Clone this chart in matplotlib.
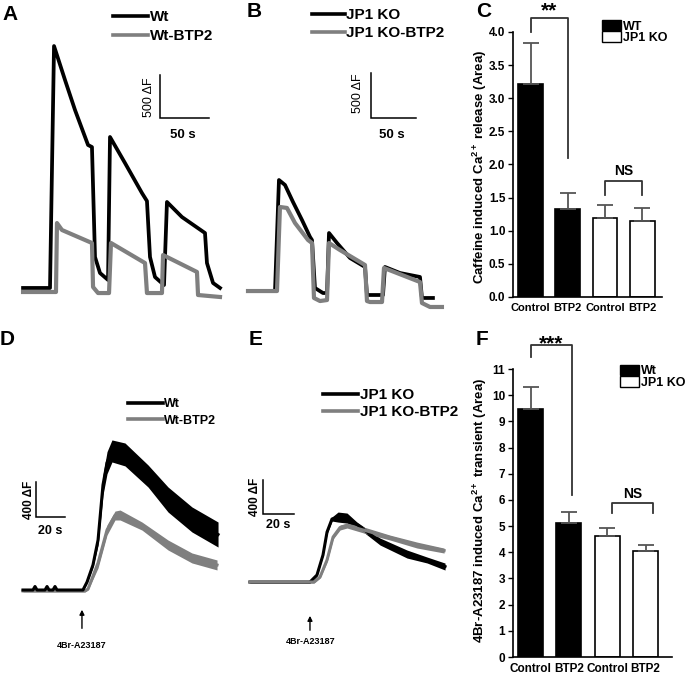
import numpy as np
import matplotlib
matplotlib.use('Agg')
import matplotlib.pyplot as plt
from matplotlib.patches import Patch

plt.rcParams['font.family'] = ['Liberation Sans', 'DejaVu Sans']
plt.rcParams['font.weight'] = 'bold'
plt.rcParams['mathtext.fontset'] = 'custom'
plt.rcParams['mathtext.rm'] = 'Liberation Sans:bold'
plt.rcParams['mathtext.bf'] = 'Liberation Sans:bold'
plt.rcParams['mathtext.it'] = 'Liberation Sans:bold:italic'

W, H = 685, 675
GRAY = '#7f7f7f'

# ---- A: caffeine-induced Ca release, Wt (time s, dF) ----
a_wt_t = [3.1, 30.6, 34.7, 45.9, 56.1, 69.4, 73.4, 76.5, 81.6, 89.8, 91.8, 107.1, 124.4, 129.5,
          132.6, 137.7, 146.9, 149.9, 165.2, 188.7, 190.7, 196.9, 204.0]
a_wt_f = [47, 47, 2861, 2466, 2117, 1710, 1686, 407, 221, 140, 1803, 1500, 1151, 1058,
          407, 174, 81, 1047, 872, 686, 337, 105, 47]
a_btp_t = [3.1, 36.7, 37.7, 42.8, 73.4, 74.5, 79.6, 90.8, 92.8, 127.5, 129.5, 144.8, 145.9,
           180.5, 181.6, 204.0]
a_btp_f = [0, 0, 802, 721, 570, 58, -12, -12, 570, 337, -12, -12, 430, 233, -35, -58]

# ---- B: JP1 KO ----
b_ko_t = [8.9, 38.9, 43.3, 50.0, 58.9, 68.9, 77.8, 80.0, 83.3, 92.2, 96.7, 98.9, 107.8, 122.2,
          138.9, 141.1, 158.9, 161.1, 177.8, 200.0, 202.2, 214.4]
b_ko_f = [33, 33, 1265, 1210, 1021, 821, 633, 599, 67, 11, 11, 677, 566, 400,
          300, -11, -11, 300, 233, 189, -44, -44]
b_btp_t = [8.9, 41.1, 44.4, 52.2, 61.1, 75.6, 80.0, 82.2, 88.9, 96.7, 98.9, 111.1, 138.9, 141.1,
           144.4, 157.8, 160.0, 200.0, 202.2, 211.1, 224.4]
b_btp_f = [33, 33, 966, 955, 788, 599, 566, -44, -78, -67, 566, 488, 322, -78,
           -89, -89, 289, 133, -100, -144, -144]

# ---- D: 4Br-A23187 transients, Wt (mean, sem) ----
d_wt_t = [5.5, 12.4, 13.8, 15.2, 20.7, 22.1, 23.5, 26.2, 27.6, 29.0, 46.9, 49.7, 53.8, 57.3,
          60.7, 63.5, 66.9, 75.9, 91.8, 105.6, 122.1, 140.1]
d_wt_m = [0, 0, 40, 0, 0, 40, 0, 0, 40, 0, 0, 91, 286, 571,
          1200, 1455, 1589, 1549, 1303, 1034, 806, 634]
d_wt_s = [12, 12, 12, 12, 12, 12, 12, 12, 12, 12, 12, 12, 23, 57,
          114, 126, 126, 131, 126, 143, 143, 143]
d_btp_t = [5.5, 48.3, 50.4, 57.3, 63.5, 69.0, 72.5, 87.6, 105.6, 122.1, 139.4]
d_btp_m = [-11, -11, 11, 309, 686, 851, 857, 731, 514, 366, 286]
d_btp_s = [11, 11, 11, 57, 57, 51, 57, 46, 57, 57, 57]

# ---- E: JP1 KO ----
e_ko_t = [3.2, 41.9, 46.4, 50.3, 52.9, 56.1, 60.0, 65.8, 72.2, 87.1, 104.5, 117.4, 129.0]
e_ko_m = [0, 0, 82, 318, 588, 741, 764, 752, 676, 476, 329, 259, 182]
e_ko_s = [12, 12, 12, 12, 24, 24, 59, 59, 29, 41, 47, 35, 41]
e_btp_t = [3.2, 44.5, 48.4, 52.9, 56.8, 61.3, 65.8, 78.7, 93.5, 110.9, 128.4]
e_btp_m = [0, 0, 59, 259, 529, 641, 664, 600, 523, 435, 370]
e_btp_s = [12, 12, 12, 24, 24, 29, 29, 35, 29, 35, 29]

# ---- C and F: bar summaries ----
groups = ['Control', 'BTP2', 'Control', 'BTP2']
c_mean = [3.21, 1.33, 1.19, 1.14]
c_err = [0.62, 0.24, 0.20, 0.21]
f_mean = [9.47, 5.10, 4.62, 4.05]
f_err = [0.85, 0.43, 0.32, 0.24]

fig = plt.figure(figsize=(W / 100, H / 100), dpi=100)


def px_axes(x0, y0, x1, y1):
    return fig.add_axes([x0 / W, 1 - y1 / H, (x1 - x0) / W, (y1 - y0) / H])


def fig_xy(x, y):
    return (x / W, 1 - y / H)


def trace_legend(ax, x, y, fs, hlen, lsp, handles=None, labels=None):
    if handles is None:
        handles, labels = ax.get_legend_handles_labels()
    leg = ax.legend(handles, labels, loc='upper left', bbox_to_anchor=fig_xy(x, y),
                    bbox_transform=fig.transFigure, frameon=False, borderpad=0,
                    borderaxespad=0, handlelength=hlen, handletextpad=0.1,
                    labelspacing=lsp, prop=dict(size=fs, weight='bold'))
    for hl in leg.get_lines():
        hl.set_linewidth(2.6)


def scalebar(ax, t0, f0, dt, df, tlab, flab, tpos, fpos, fweight, tfs, ffs):
    ax.plot([t0, t0, t0 + dt], [f0 + df, f0, f0], color='black', lw=1.1,
            solid_joinstyle='miter', clip_on=False)
    ax.text(tpos[0], tpos[1], tlab, ha='center', va='center', fontsize=tfs, fontweight='bold')
    ax.text(fpos[0], fpos[1], flab, ha='center', va='center', rotation=90,
            fontsize=ffs, fontweight=fweight)


# ---------------- A ----------------
axA = px_axes(20, 40, 225, 300)
axA.set_xlim(0, 209.1)
axA.set_ylim(-93, 2931)
axA.axis('off')
axA.plot(a_wt_t, a_wt_f, color='black', lw=2.7, label='Wt')
axA.plot(a_btp_t, a_btp_f, color=GRAY, lw=3.0, label='Wt-BTP2')
trace_legend(axA, 113, 10, 11, 2.3, 0.34)
scalebar(axA, 142.9, 2024, 50, 500, '50 s', '500 \u0394F', (166.3, 1826), (131.5, 2268),
         'normal', 9.5, 9)

# ---------------- B ----------------
axB = px_axes(240, 40, 445, 315)
axB.set_xlim(0, 227.8)
axB.set_ylim(-233, 2819)
axB.axis('off')
axB.plot(b_ko_t, b_ko_f, color='black', lw=2.7, label='JP1 KO')
axB.plot(b_btp_t, b_btp_f, color=GRAY, lw=3.0, label='JP1 KO-BTP2')
trace_legend(axB, 312, 8, 11, 2.15, 0.28)
scalebar(axB, 145.5, 1954, 50, 500, '50 s', '500 \u0394F', (168.9, 1765), (131.1, 2231),
         'normal', 9.5, 9)

# ---------------- D ----------------
axD = px_axes(15, 380, 225, 660)
axD.set_xlim(0, 144.9)
axD.set_ylim(-800, 2400)
axD.axis('off')
m, s = np.array(d_btp_m), np.array(d_btp_s)
axD.fill_between(d_btp_t, m - s, m + s, color=GRAY, lw=0)
lDg, = axD.plot(d_btp_t, m, color=GRAY, lw=2.2)
m, s = np.array(d_wt_m), np.array(d_wt_s)
axD.fill_between(d_wt_t, m - s, m + s, color='black', lw=0)
lDb, = axD.plot(d_wt_t, m, color='black', lw=2.2)
trace_legend(axD, 128, 398, 9, 2.8, 0.38, [lDb, lDg], ['Wt', 'Wt-BTP2'])
scalebar(axD, 14.5, 834, 20, 400, '20 s', '400 \u0394F', (24.2, 674), (9.7, 1029),
         'bold', 9, 8.5)
axD.annotate('', xy=(46.2, -194), xytext=(46.2, -470),
             arrowprops=dict(arrowstyle='-|>', color='black', lw=1, mutation_scale=7))
axD.text(46.2, -640, '4Br-A23187', ha='center', va='center', fontsize=6.5, fontweight='bold')

# ---------------- E ----------------
axE = px_axes(245, 380, 450, 660)
axE.set_xlim(0, 132.2)
axE.set_ylim(-917, 2376)
axE.axis('off')
m, s = np.array(e_ko_m), np.array(e_ko_s)
axE.fill_between(e_ko_t, m - s, m + s, color='black', lw=0)
lEb, = axE.plot(e_ko_t, m, color='black', lw=2.2)
m, s = np.array(e_btp_m), np.array(e_btp_s)
axE.fill_between(e_btp_t, m - s, m + s, color=GRAY, lw=0)
lEg, = axE.plot(e_btp_t, m, color=GRAY, lw=2.2)
trace_legend(axE, 323, 388, 11, 2.3, 0.21, [lEb, lEg], ['JP1 KO', 'JP1 KO-BTP2'])
scalebar(axE, 11.6, 800, 20, 400, '20 s', '400 \u0394F', (21.3, 670), (6.5, 1000),
         'bold', 9, 8.5)
axE.annotate('', xy=(41.9, -365), xytext=(41.9, -600),
             arrowprops=dict(arrowstyle='-|>', color='black', lw=1, mutation_scale=7))
axE.text(42.5, -694, '4Br-A23187', ha='center', va='center', fontsize=6.5, fontweight='bold')


# ---------------- bar panels ----------------
def bar_panel(ax, means, errs, width, ylab, lab_xy, legend_labels, leg_xy, xfs):
    x = np.arange(len(means))
    fills = ['black', 'black', 'white', 'white']
    ax.bar(x, means, width=width, color=fills, edgecolor='black', linewidth=1.2,
           yerr=[np.zeros(len(errs)), errs],
           error_kw=dict(ecolor='#555555', elinewidth=1.3, capsize=6, capthick=1.3), zorder=2)
    ax.set_xticks(x)
    ax.set_xticklabels(groups, fontsize=xfs, fontweight='bold')
    ax.tick_params(axis='x', length=0, pad=4)
    ax.tick_params(axis='y', length=3.5, width=1, labelsize=8.5, pad=2)
    for sp in ['top', 'right']:
        ax.spines[sp].set_visible(False)
    for sp in ['left', 'bottom']:
        ax.spines[sp].set_linewidth(1.2)
    ax.set_ylabel(ylab, fontsize=9.5, fontweight='bold')
    ax.yaxis.set_label_coords(*lab_xy)
    handles = [Patch(facecolor='black', edgecolor='black', lw=1),
               Patch(facecolor='white', edgecolor='black', lw=1)]
    ax.legend(handles, legend_labels, loc='upper left', bbox_to_anchor=fig_xy(*leg_xy),
              bbox_transform=fig.transFigure, frameon=False, borderpad=0, borderaxespad=0,
              handlelength=1.5, handleheight=0.9, handletextpad=0.15, labelspacing=-0.1,
              prop=dict(size=9, weight='bold'))


def bracket(ax, x0, x1, y0, ytop, y1, label, ly, fs):
    ax.plot([x0, x0, x1, x1], [y0, ytop, ytop, y1], color='#333333', lw=1.3, clip_on=False)
    ax.text((x0 + x1) / 2, ly, label, ha='center', va='bottom', fontsize=fs,
            fontweight='bold', clip_on=False)


axC = px_axes(513, 32, 662, 297)
bar_panel(axC, c_mean, c_err, 0.67, r'Caffeine induced Ca$^{\mathbf{2+}}$ release (Area)',
          (-0.16, 0.49), ['WT', 'JP1 KO'], (602, 20), 8)
axC.set_xlim(-0.47, 3.53)
axC.set_ylim(0, 4.0)
axC.set_yticks(np.arange(0, 4.01, 0.5))
axC.set_yticklabels(['%.1f' % v for v in np.arange(0, 4.01, 0.5)])
bracket(axC, 0, 1, 4.0, 4.21, 2.1, '**', 4.17, 15)
bracket(axC, 2, 3, 1.54, 1.75, 1.54, 'NS', 1.8, 10)

axF = px_axes(513, 369, 672, 657)
bar_panel(axF, f_mean, f_err, 0.65, r'4Br-A23187 induced Ca$^{\mathbf{2+}}$ transient (Area)',
          (-0.15, 0.51), ['Wt', 'JP1 KO'], (620, 365), 8.5)
axF.set_xlim(-0.457, 3.69)
axF.set_ylim(0, 11)
axF.set_yticks(range(0, 12))
bracket(axF, 0, 1.08, 11.45, 11.9, 6.18, '***', 11.6, 15)
bracket(axF, 2.12, 3.2, 5.5, 5.88, 5.5, 'NS', 5.95, 10)

# panel letters
for letter, x, y in [('A', 2, 20), ('B', 247, 17), ('C', 476, 17),
                     ('D', 0, 345), ('E', 249, 345), ('F', 476, 345)]:
    fig.text(x / W, 1 - y / H, letter, fontsize=15, fontweight='bold', va='baseline')

fig.savefig('out.png', dpi=100)
